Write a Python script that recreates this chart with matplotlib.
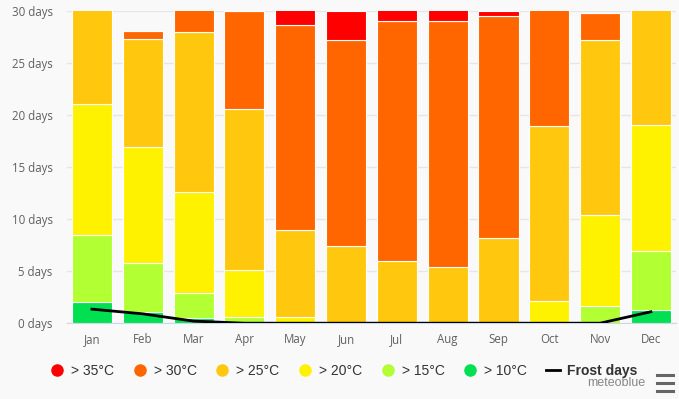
import matplotlib.pyplot as plt
from matplotlib.lines import Line2D
import numpy as np

months = ['Jan', 'Feb', 'Mar', 'Apr', 'May', 'Jun', 'Jul', 'Aug', 'Sep', 'Oct', 'Nov', 'Dec']

# days per month in each temperature band (segments of the stack)
gt10 = [2.05, 1.05, 0.5, 0.0, 0.0, 0.0, 0.0, 0.0, 0.0, 0.0, 0.0, 1.3]
gt15 = [6.45, 4.75, 2.4, 0.55, 0.0, 0.0, 0.0, 0.0, 0.0, 0.1, 1.7, 5.6]
gt20 = [12.6, 11.1, 9.7, 4.6, 0.55, 0.0, 0.0, 0.0, 0.0, 2.0, 8.75, 12.2]
gt25 = [9.9, 10.4, 15.35, 15.4, 8.4, 7.4, 6.0, 5.4, 8.15, 16.9, 16.75, 11.9]
gt30 = [0.0, 0.8, 3.05, 9.45, 19.7, 19.8, 23.05, 23.7, 21.35, 12.0, 2.65, 0.0]
gt35 = [0.0, 0.0, 0.0, 0.0, 2.35, 2.8, 1.95, 1.9, 0.5, 0.0, 0.0, 0.0]
frost = [1.35, 0.9, 0.2, 0.0, 0.0, 0.0, 0.0, 0.0, 0.0, 0.0, 0.0, 1.1]

series = [gt10, gt15, gt20, gt25, gt30, gt35]
colors = ['#00e050', '#b2ff33', '#fff200', '#ffc80e', '#ff6600', '#ff0000']
labels = ['> 10°C', '> 15°C', '> 20°C', '> 25°C', '> 30°C', '> 35°C']

plt.rcParams['font.family'] = ['Open Sans', 'DejaVu Sans']

bg = '#f9f9f9'
fig = plt.figure(figsize=(6.79, 3.99), dpi=100, facecolor=bg)
ax = fig.add_axes([0.098, 0.19, 0.898, 0.782], facecolor=bg)

x = np.arange(len(months))
bottom = np.zeros(len(months))
for vals, c in zip(series, colors):
    vals = np.array(vals)
    ax.bar(x, vals, bottom=bottom, width=0.79, color=c, edgecolor='white',
           linewidth=0.8, zorder=2)
    bottom += vals

ax.plot(x, frost, color='black', linewidth=2, zorder=3)

ax.set_xlim(-0.5, 11.5)
ax.set_ylim(0, 30)
ax.set_yticks([0, 5, 10, 15, 20, 25, 30])
ax.set_yticklabels([f'{v} days' for v in [0, 5, 10, 15, 20, 25, 30]])
ax.set_xticks(x)
ax.set_xticklabels(months)
ax.tick_params(axis='both', length=0, labelsize=8.3, labelcolor='#606060')
ax.tick_params(axis='y', pad=10)
ax.tick_params(axis='x', pad=7)
ax.grid(axis='y', color='#e6e6e6', linewidth=1, zorder=0)
for s in ['top', 'right', 'left']:
    ax.spines[s].set_visible(False)
ax.spines['bottom'].set_color('#ccd6eb')

handles = []
for c, l in zip(colors[::-1], labels[::-1]):
    handles.append(Line2D([], [], marker='o', linestyle='', markersize=8,
                          markerfacecolor=c, markeredgecolor=c, label=l))
handles.append(Line2D([], [], color='black', linewidth=2, label='Frost days'))
leg = fig.legend(handles=handles, loc='center', bbox_to_anchor=(0.506, 0.07),
                 ncol=7, frameon=False, handlelength=1.0,
                 handletextpad=0.5, columnspacing=1.35,
                 prop={'family': ['Liberation Sans', 'DejaVu Sans'], 'size': 10})
for t in leg.get_texts():
    t.set_color('#333333')
leg.get_texts()[-1].set_fontweight('bold')

fig.text(0.951, 0.04, 'meteoblue', fontsize=9, color='#888888', ha='right', va='center',
         family=['Liberation Sans', 'DejaVu Sans'])
for yy in [0.06, 0.04, 0.02]:
    fig.add_artist(Line2D([0.968, 0.991], [yy, yy], color='#666666', linewidth=2.2))

fig.savefig('out.png', dpi=100, facecolor=bg)
